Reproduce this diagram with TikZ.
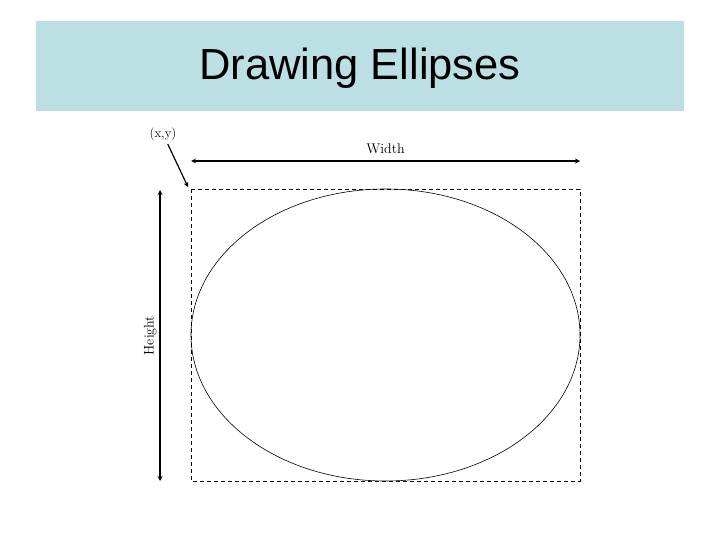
\documentclass[tikz,border=0pt]{standalone}
\usepackage{fontspec}
\newfontfamily\titlefont{Liberation Sans}
\usetikzlibrary{arrows}
\definecolor{bannerblue}{HTML}{BBDFE3}
\tikzset{
  banner/.style={fill=bannerblue},
  dimlabel/.style={font=\fontsize{14}{17}\selectfont},
  box/.style={semithick,dash pattern=on 4pt off 3pt}
}
\begin{document}
\begin{tikzpicture}[x=1pt,y=-1pt,>=stealth]
  % \draw[help lines](0,0) grid (720,540);
  \useasboundingbox (0,0) rectangle (720,540);

  \fill[banner] (36,21) rectangle (684,111);
  \draw (360,68) node (title) {\titlefont\fontsize{43.5}{52}\selectfont Drawing Ellipses};

  \draw[box] (191,189) rectangle (580,481);
  \draw[semithick] (385.5,335) ellipse (194.5pt and 146pt);

  \coordinate (corner) at (188,187);
  \coordinate (wl) at (191,161);
  \coordinate (wr) at (580,161);
  \coordinate (ht) at (160,190);
  \coordinate (hb) at (160,481);

  \draw (163,134) node[font=\fontsize{13}{16}\selectfont] (xy) {(x,y)};
  \draw[->,very thick] (xy) -- (corner);
  \draw[<->,very thick] (wl) -- (wr) node [midway,above=3pt,dimlabel] (width) {Width};
  \draw[<->,very thick] (ht) -- (hb) node [midway,rotate=90,anchor=south,inner sep=3pt,dimlabel] (height) {Height};
\end{tikzpicture}
\end{document}
